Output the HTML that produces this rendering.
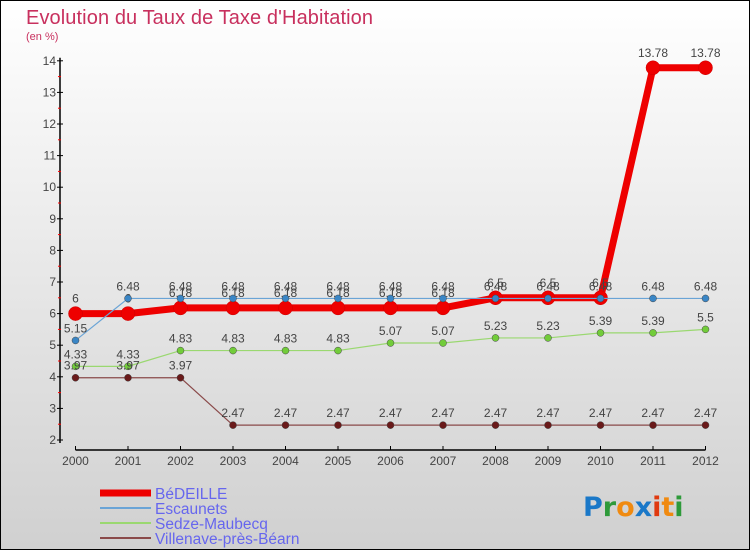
<!DOCTYPE html>
<html><head><meta charset="utf-8"><style>
body{margin:0;}
svg{display:block;font-family:"Liberation Sans",sans-serif;}
</style></head><body>
<svg id="chart" width="750" height="550" xmlns="http://www.w3.org/2000/svg">
<defs><linearGradient id="bg" x1="0" y1="0" x2="0" y2="1"><stop offset="0" stop-color="#ffffff"/><stop offset="1" stop-color="#d0d0d0"/></linearGradient></defs>
<rect x="0.5" y="0.5" width="749" height="549" fill="url(#bg)" stroke="#000" stroke-width="1"/>
<text x="26" y="24" font-size="20" fill="#c8305e" textLength="347">Evolution du Taux de Taxe d'Habitation</text>
<text x="26" y="40" font-size="11" fill="#c8305e">(en %)</text>
<g id="axes"></g>
<g id="series"></g>
<g id="legend"></g>
<g font-size="27" font-weight="bold" font-family="'DejaVu Sans',sans-serif">
<text x="583" y="516"><tspan fill="#1a78c8">P</tspan><tspan fill="#2e9a3a">r</tspan><tspan fill="#f08a10">o</tspan><tspan fill="#1a78c8">x</tspan><tspan fill="#e03a10">i</tspan><tspan fill="#f08a10">t</tspan><tspan fill="#2e9a3a">i</tspan></text>
</g>
</svg>
<script>
const years=["2000","2001","2002","2003","2004","2005","2006","2007","2008","2009","2010","2011","2012"];
const yTicks=[2,3,4,5,6,7,8,9,10,11,12,13,14];
const bedeille=[6,6,6.18,6.18,6.18,6.18,6.18,6.18,6.5,6.5,6.5,13.78,13.78];
const escaunets=[5.15,6.48,6.48,6.48,6.48,6.48,6.48,6.48,6.48,6.48,6.48,6.48,6.48];
const sedze=[4.33,4.33,4.83,4.83,4.83,4.83,5.07,5.07,5.23,5.23,5.39,5.39,5.5];
const villenave=[3.97,3.97,3.97,2.47,2.47,2.47,2.47,2.47,2.47,2.47,2.47,2.47,2.47];
const seriesNames=["BéDEILLE","Escaunets","Sedze-Maubecq","Villenave-près-Béarn"];
const NS="http://www.w3.org/2000/svg";
function X(i){return 75.5+i*52.5;}
function Y(v){return 440-(v-2)*31.6;}
function mk(tag,attrs,parent){const e=document.createElementNS(NS,tag);for(const k in attrs)e.setAttribute(k,attrs[k]);parent.appendChild(e);return e;}
const axes=document.getElementById('axes');
let yl=mk('line',{x1:60,y1:Y(14)-3,x2:60,y2:Y(2)+3,stroke:'#000','stroke-width':1.5},axes);


yTicks.forEach(t=>{
  let tl=mk('line',{x1:57,x2:63,y1:Y(t),y2:Y(t),stroke:'#000'},axes);
  
  
  let tx=mk('text',{x:56,y:Y(t)+4,'font-size':12,fill:'#444','text-anchor':'end'},axes);
  tx.textContent=t;
  
  
  if(t<14){let m=mk('line',{x1:58,x2:61,y1:Y(t+0.5),y2:Y(t+0.5),stroke:'#f00'},axes);
  
  }
});
let xl=mk('line',{x1:X(0),y1:450,x2:X(12),y2:450,stroke:'#000','stroke-width':1.5},axes);


years.forEach((y,i)=>{
  let tl=mk('line',{x1:X(i),x2:X(i),y1:446,y2:450,stroke:'#000'},axes);
  
  
  let tx=mk('text',{x:X(i),y:465,'font-size':12,fill:'#444','text-anchor':'middle'},axes);
  tx.textContent=y;
  
  
});
const sg=document.getElementById('series');
const cfg=[[bedeille,'#ee0000',7,7,'#ee0000'],[escaunets,'#6aa4d6',1.2,3.5,'#3a86c6'],[sedze,'#9ad870',1.2,3.5,'#72cc3a'],[villenave,'#8a4a4a',1.2,3.5,'#6a1a1a']];
cfg.forEach((c,si)=>{
  const g=mk('g',{},sg);
  
  
  const pts=c[0].map((v,i)=>X(i)+','+Y(v)).join(' ');
  let pl=mk('polyline',{points:pts,fill:'none',stroke:c[1],'stroke-width':c[2],'stroke-linejoin':'round'},g);
  
  
  c[0].forEach((v,i)=>{
    let p=mk('circle',{cx:X(i),cy:Y(v),r:c[3],fill:c[4],stroke:si==0?'#cc0000':'#444','stroke-width':0.5},g);
    
    
    let t=mk('text',{x:X(i),y:Y(v)-(si==0?11:8),'font-size':12,fill:'#444','text-anchor':'middle'},g);
    t.textContent=String(v);
    
    
  });
});
const lg=document.getElementById('legend');
const lcol=['#ee0000','#6aa4d6','#9ad870','#8a4a4a'];
seriesNames.forEach((n,i)=>{
  const y=493+i*15;
  let l=mk('line',{x1:100,x2:151,y1:y,y2:y,stroke:lcol[i],'stroke-width':i==0?7:2},lg);
  
  
  let t=mk('text',{x:155,y:y+6,'font-size':15.5,fill:'#6666ee'},lg);
  t.textContent=n;
  
  
});
</script>
</body></html>
